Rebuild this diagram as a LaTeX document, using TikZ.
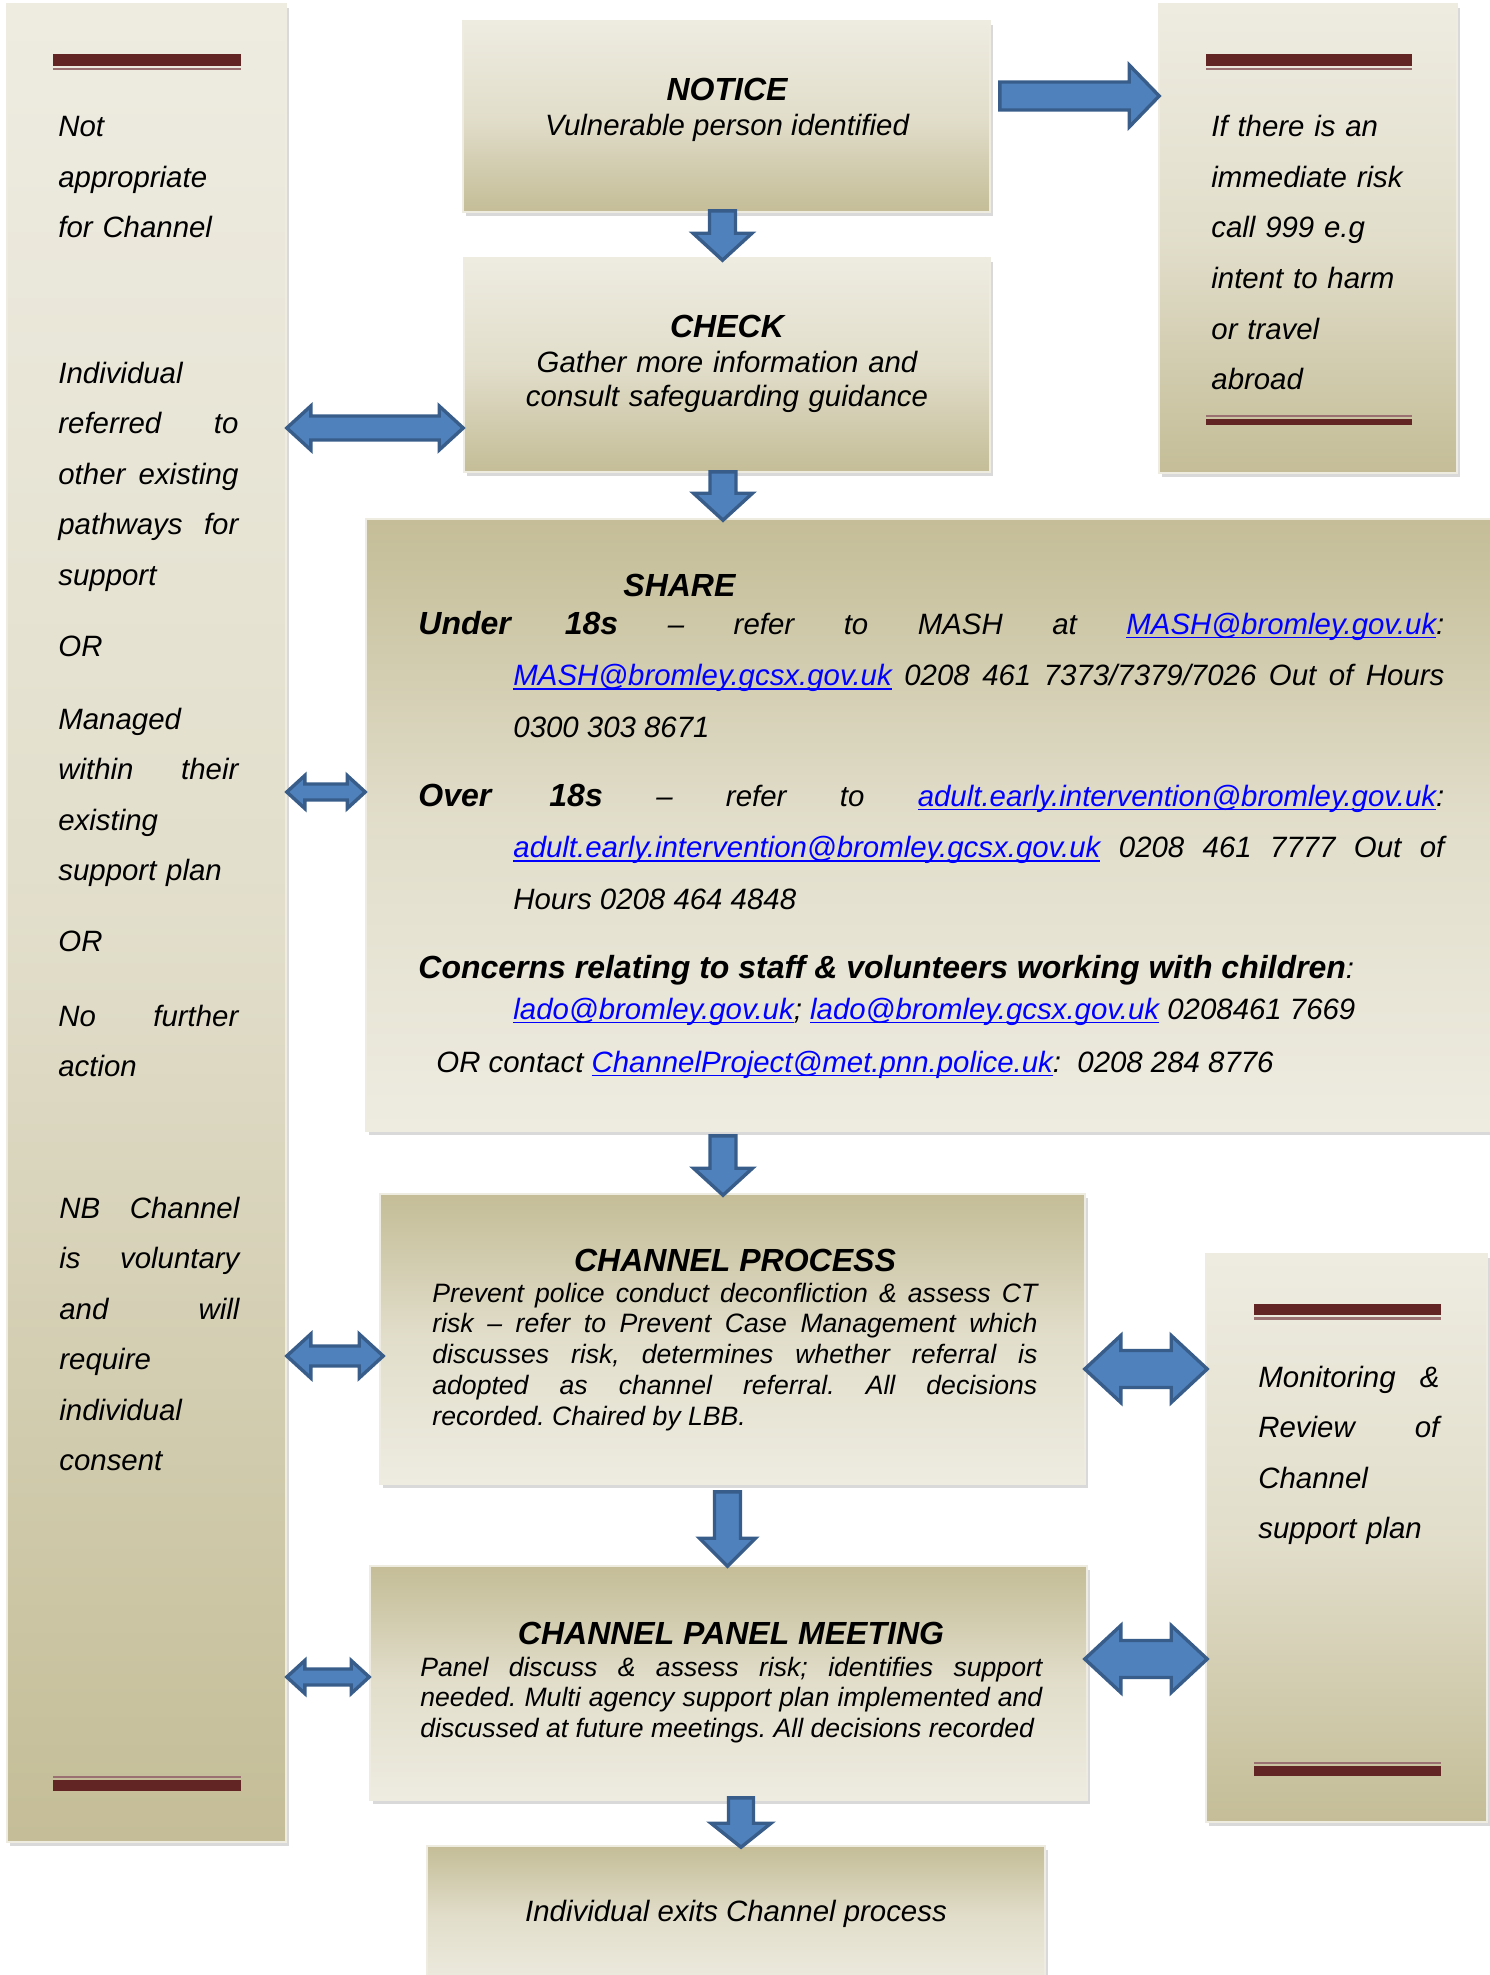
\documentclass[tikz,border=0pt]{standalone}
\usepackage{fontspec}
\setmainfont{Liberation Sans}
\usetikzlibrary{calc,fit,shadows}
\definecolor{paleback}{HTML}{EEECE1}
\definecolor{tanback}{HTML}{C4BD97}
\definecolor{arrowfill}{HTML}{4F81BD}
\definecolor{arrowline}{HTML}{385D8A}
\definecolor{barred}{HTML}{632523}
\definecolor{mailblue}{HTML}{0000FF}
\hyphenpenalty=10000
\exhyphenpenalty=10000
\frenchspacing
\newcommand{\maillink}[1]{\textcolor{mailblue}{\setbox0=\hbox{#1}\rlap{\rule[-2.2pt]{\wd0}{0.9pt}}\box0}}
\newcommand{\onewayarrow}[5]{%
  \coordinate (oa-s) at (#1);
  \coordinate (oa-t) at (#2);
  \coordinate (oa-h) at ($(oa-t)!#5!(oa-s)$);
  \draw[blockarrow] ($(oa-s)!#3!90:(oa-t)$) -- ($(oa-h)!#3!90:(oa-t)$) -- ($(oa-h)!#4!90:(oa-t)$) -- (oa-t)
    -- ($(oa-h)!#4!-90:(oa-t)$) -- ($(oa-h)!#3!-90:(oa-t)$) -- ($(oa-s)!#3!-90:(oa-t)$) -- cycle;}
\newcommand{\twowayarrow}[5]{%
  \coordinate (ta-a) at (#1);
  \coordinate (ta-b) at (#2);
  \coordinate (ta-ha) at ($(ta-a)!#5!(ta-b)$);
  \coordinate (ta-hb) at ($(ta-b)!#5!(ta-a)$);
  \draw[blockarrow] (ta-a) -- ($(ta-ha)!#4!90:(ta-b)$) -- ($(ta-ha)!#3!90:(ta-b)$) -- ($(ta-hb)!#3!-90:(ta-a)$) -- ($(ta-hb)!#4!-90:(ta-a)$) -- (ta-b)
    -- ($(ta-hb)!#4!90:(ta-a)$) -- ($(ta-hb)!#3!90:(ta-a)$) -- ($(ta-ha)!#3!-90:(ta-b)$) -- ($(ta-ha)!#4!-90:(ta-b)$) -- cycle;}
\begin{document}
\begin{tikzpicture}[x=0.5pt,y=-0.5pt,
    boxdown/.style={draw=paleback,line width=0.8pt,inner sep=0pt,top color=paleback,bottom color=tanback,middle color=paleback!70!tanback,
      drop shadow={shadow xshift=1.5pt,shadow yshift=-2pt,opacity=0.3}},
    boxup/.style={boxdown,top color=tanback,bottom color=paleback,middle color=paleback!70!tanback},
    blockarrow/.style={fill=arrowfill,draw=arrowline,line width=1.7pt,line join=miter},
    barthin/.style={draw=barred!65,line width=1.2pt},
    sidetext/.style={anchor=base west,inner sep=0pt,text width=90pt,align=left,font=\fontsize{14.7}{25.25}\selectfont\itshape},
    titletext/.style={anchor=base,inner sep=0pt,font=\fontsize{16}{17}\selectfont\bfseries\itshape},
    plaintext/.style={anchor=base,inner sep=0pt,font=\fontsize{14.7}{17}\selectfont\itshape},
    sharetext/.style={anchor=base west,inner sep=0pt,text width=513pt,align=justify,font=\fontsize{14.7}{25.75}\selectfont\itshape},
    processtext/.style={anchor=base west,inner sep=0pt,align=justify,font=\fontsize{13.3}{15.4}\selectfont\itshape}]
            \useasboundingbox (0,0) rectangle (1489,1975);
            \node[boxdown,fit={(7,4) (286,1842)}] (side) {};
            \node[boxdown,fit={(463,21) (990,212)}] (notice) {};
            \node[boxdown,fit={(464,258) (990,472)}] (check) {};
            \node[boxdown,fit={(1159,4) (1457,473)}] (risk) {};
            \node[boxup,fit={(366,519) (1500,1131)}] (share) {};
            \node[boxup,fit={(380,1194) (1085,1484)}] (cp) {};
            \node[boxdown,fit={(1206,1254) (1487,1822)}] (monitor) {};
            \node[boxup,fit={(370,1566) (1087,1800)}] (panel) {};
            \node[boxup,fit={(427,1846) (1045,1990)}] (exit) {};
            \fill[barred] (53,54) rectangle (241,66);
            \draw[barthin] (53,69) -- (241,69);
            \draw[barthin] (53,1777) -- (241,1777);
            \fill[barred] (53,1780) rectangle (241,1791);
            \fill[barred] (1206,54) rectangle (1412,66);
            \draw[barthin] (1206,69) -- (1412,69);
            \draw[barthin] (1206,416) -- (1412,416);
            \fill[barred] (1206,419) rectangle (1412,425);
            \fill[barred] (1254,1304) rectangle (1441,1315);
            \draw[barthin] (1254,1318.5) -- (1441,1318.5);
            \draw[barthin] (1254,1763) -- (1441,1763);
            \fill[barred] (1254,1766) rectangle (1441,1776);
            \onewayarrow{$(notice.east |- 0,96)+(9,0)$}{$(risk.west |- 0,96)+(1,0)$}{7pt}{15.5pt}{15pt}
            \onewayarrow{$(notice.south)+(-4,-2)$}{$(notice.south |- check.north)+(-4,3)$}{6.5pt}{14.75pt}{13.5pt}
            \onewayarrow{$(check.south)+(-4,-1)$}{$(check.south |- share.north)+(-4,2)$}{6.5pt}{14.75pt}{13.5pt}
            \onewayarrow{$(check.south |- share.south)+(-4,4)$}{$(check.south |- cp.north)+(-4,2)$}{6.5pt}{14.75pt}{13.5pt}
            \onewayarrow{$(cp.south)+(-5,7)$}{$(cp.south |- panel.north)+(-5,1)$}{6.5pt}{14pt}{14pt}
            \onewayarrow{$(panel.south)+(12.5,-3)$}{$(panel.south |- exit.north)+(12.5,2)$}{6.25pt}{15pt}{12pt}
            \twowayarrow{side.east |- 0,428}{check.west |- 0,428}{6pt}{11pt}{12pt}
            \twowayarrow{side.east |- 0,792}{share.west |- 0,792}{4pt}{8.25pt}{9pt}
            \twowayarrow{side.east |- 0,1356}{$(cp.west |- 0,1356)+(4,0)$}{5pt}{11pt}{12pt}
            \twowayarrow{side.east |- 0,1677}{panel.west |- 0,1677}{4pt}{8.25pt}{9pt}
            \twowayarrow{$(cp.east |- 0,1369)+(-1,0)$}{$(monitor.west |- 0,1369)+(2,0)$}{9.25pt}{16.75pt}{18pt}
            \twowayarrow{$(panel.east |- 0,1659)+(-3,0)$}{$(monitor.west |- 0,1659)+(2,0)$}{9.25pt}{16.75pt}{18pt}
            \node[sidetext] (side-not) at (58,137) {Not\\appropriate\\for Channel};
            \node[sidetext] (side-paths) at (58,383) {Individual\\referred\hfill to\\other\hfill existing\\pathways\hfill for\\support};
            \node[sidetext] (side-or1) at (58,656) {OR};
            \node[sidetext] (side-plan) at (58,729) {Managed\\within\hfill their\\existing\\support plan};
            \node[sidetext] (side-or2) at (58,951) {OR};
            \node[sidetext] (side-none) at (58,1026) {No\hfill further\\action};
            \node[sidetext] (side-nb) at (59,1218) {NB\hfill Channel\\is\hfill voluntary\\and\hfill will\\require\\individual\\consent};
            \node[sidetext,text width=115pt] (risk-text) at (1211,137) {If there is an\\immediate risk\\call 999 e.g\\intent to harm\\or travel\\abroad};
            \node[sidetext,text width=90.5pt] (monitor-text) at (1258,1387) {Monitoring\hfill\&\\Review\hfill of\\Channel\\support plan};
            \node[titletext] (notice-title) at (727,101) {NOTICE};
            \node[plaintext] (notice-text) at (727,135) {Vulnerable person identified};
            \node[titletext] (check-title) at (727,337) {CHECK};
            \node[plaintext,text width=270pt,align=center] (check-text) at (727,372) {Gather more information and\\consult safeguarding guidance};
            \node[titletext,anchor=base west] (share-title) at (623,596) {SHARE};
            \node[sharetext] (share-under) at (418,634) {\hangindent=47.5pt\hangafter=1 {\fontsize{16}{25.75}\selectfont\bfseries Under 18s} -- refer to MASH at \maillink{MASH@bromley.gov.uk}:\linebreak
              \maillink{MASH@bromley.gcsx.gov.uk} 0208 461 7373/7379/7026 Out of Hours\linebreak 0300 303 8671\par};
            \node[sharetext] (share-over) at (418,806) {\hangindent=47.5pt\hangafter=1 {\fontsize{16}{25.75}\selectfont\bfseries Over 18s} -- refer to \maillink{adult.early.intervention@bromley.gov.uk}:\linebreak
              \maillink{adult.early.intervention@bromley.gcsx.gov.uk} 0208 461 7777 Out of\linebreak Hours 0208 464 4848\par};
            \node[sharetext,font=\fontsize{14.7}{20.5}\selectfont\itshape] (share-staff) at (418,978) {\hangindent=47.5pt\hangafter=1 {\fontsize{16}{20.5}\selectfont\bfseries Concerns relating to staff \& volunteers working with children}:\\
              \maillink{lado@bromley.gov.uk}; \maillink{lado@bromley.gcsx.gov.uk} 0208461 7669\par};
            \node[plaintext,anchor=base west] (share-police) at (436,1072) {OR contact \maillink{ChannelProject@met.pnn.police.uk}: \ 0208 284 8776};
            \node[titletext] (cp-title) at (735,1271) {CHANNEL PROCESS};
            \node[processtext,text width=302.5pt] (cp-text) at (432,1302) {Prevent police conduct deconfliction \& assess CT\linebreak
              risk -- refer to Prevent Case Management which\linebreak discusses risk, determines whether referral is\linebreak
              adopted as channel referral. All decisions\linebreak recorded. Chaired by LBB.\par};
            \node[titletext] (panel-title) at (731,1644) {CHANNEL PANEL MEETING};
            \node[processtext,text width=311pt] (panel-text) at (420,1676) {Panel discuss \& assess risk; identifies support\linebreak
              needed. Multi agency support plan implemented and\linebreak discussed at future meetings. All decisions recorded\par};
            \node[plaintext] (exit-text) at (736,1921) {Individual exits Channel process};
\end{tikzpicture}
\end{document}
